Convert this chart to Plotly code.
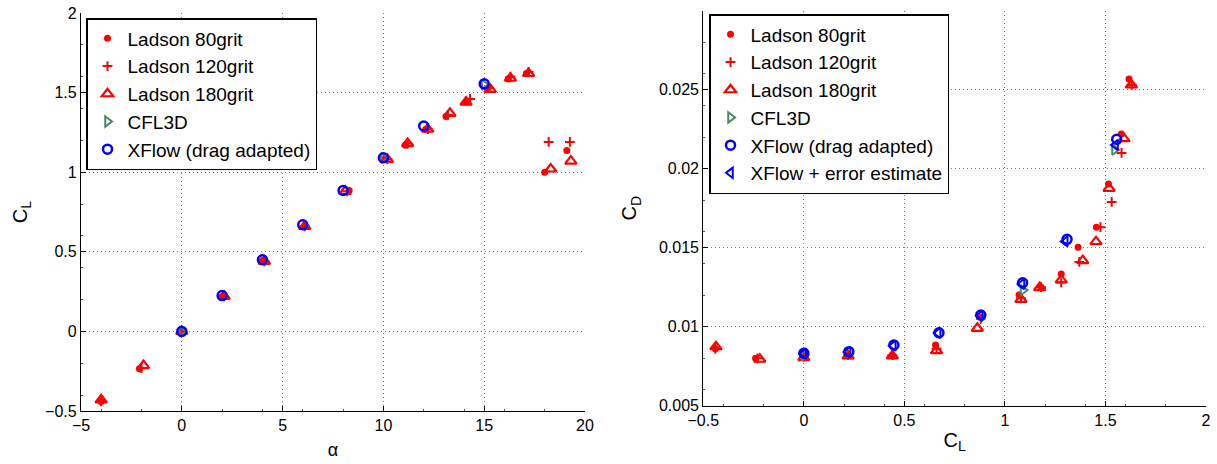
import plotly.graph_objects as go

W, H = 1217, 464

# ---------------- Left plot: CL vs alpha ----------------
a80 = [-4.0, -2.1, 0.0, 2.0, 4.0, 6.1, 8.3, 10.1, 11.1, 12.1, 13.1, 14.1, 15.2, 16.2, 17.1, 18.0, 19.1]
cl80 = [-0.44, -0.235, 0.0, 0.22, 0.445, 0.665, 0.885, 1.09, 1.17, 1.27, 1.35, 1.44, 1.53, 1.585, 1.62, 1.0, 1.136]
a120 = [-4.0, -2.0, 0.0, 2.1, 4.1, 6.1, 8.2, 10.2, 11.2, 12.2, 13.2, 14.3, 15.2, 16.3, 17.2, 18.2, 19.25]
cl120 = [-0.44, -0.23, 0.0, 0.22, 0.44, 0.66, 0.88, 1.08, 1.18, 1.27, 1.36, 1.46, 1.53, 1.60, 1.63, 1.19, 1.19]
a180 = [-4.0, -1.9, 0.0, 2.1, 4.1, 6.1, 8.1, 10.2, 11.2, 12.2, 13.3, 14.1, 15.3, 16.3, 17.2, 18.3, 19.3]
cl180 = [-0.43, -0.215, 0.0, 0.22, 0.44, 0.66, 0.88, 1.08, 1.18, 1.27, 1.37, 1.44, 1.52, 1.59, 1.62, 1.02, 1.07]
a_cfl = [0.0, 10.0, 15.0]
cl_cfl = [0.0, 1.09, 1.55]
a_xf = [0.0, 2.0, 4.0, 6.0, 8.0, 10.0, 12.0, 15.0]
cl_xf = [0.0, 0.225, 0.45, 0.67, 0.885, 1.09, 1.29, 1.555]

# ---------------- Right plot: CD vs CL ----------------
r_cl80 = [-0.44, -0.24, 0.0, 0.22, 0.44, 0.655, 0.88, 1.07, 1.18, 1.28, 1.364, 1.455, 1.515, 1.579, 1.617]
r_cd80 = [0.0086, 0.0080, 0.0081, 0.0082, 0.0082, 0.00884, 0.0106, 0.0120, 0.0125, 0.01334, 0.01503, 0.01629, 0.01903, 0.0222, 0.02568]
r_cl120 = [-0.44, -0.23, 0.0, 0.22, 0.44, 0.66, 0.88, 1.08, 1.18, 1.28, 1.37, 1.475, 1.531, 1.58, 1.63]
r_cd120 = [0.0086, 0.0080, 0.0081, 0.0082, 0.0082, 0.0086, 0.0105, 0.0118, 0.0125, 0.0128, 0.0141, 0.0163, 0.0179, 0.0210, 0.0253]
r_cl180 = [-0.437, -0.219, 0.0, 0.22, 0.44, 0.66, 0.863, 1.08, 1.173, 1.28, 1.387, 1.453, 1.518, 1.592, 1.629]
r_cd180 = [0.00873, 0.00794, 0.00804, 0.00815, 0.00815, 0.00848, 0.0099, 0.01173, 0.01247, 0.01296, 0.01418, 0.01538, 0.01876, 0.0219, 0.0253]
r_cl_cfl = [0.0, 1.09, 1.545]
r_cd_cfl = [0.0082, 0.01232, 0.0212]
r_cl_xf = [0.0, 0.224, 0.448, 0.672, 0.88, 1.088, 1.309, 1.556]
r_cd_xf = [0.00832, 0.00842, 0.00884, 0.00962, 0.01074, 0.01278, 0.01553, 0.02186]
r_cl_xfe = [0.0, 0.22, 0.445, 0.668, 0.878, 1.085, 1.30, 1.55]
r_cd_xfe = [0.0083, 0.0084, 0.0088, 0.0096, 0.0107, 0.0127, 0.0154, 0.0215]

names = ["Ladson 80grit", "Ladson 120grit", "Ladson 180grit", "CFL3D",
         "XFlow (drag adapted)", "XFlow + error estimate"]

RED = "#ff0000"
GREEN = "#4a8a68"
BLUE = "#0000ff"

styles = [
    dict(symbol="circle", size=7, color=RED, line=dict(width=0, color=RED)),
    dict(symbol="cross-thin", size=7, color=RED, line=dict(width=2, color=RED)),
    dict(symbol="triangle-up-open", size=10, color=RED, line=dict(width=2.2, color=RED)),
    dict(symbol="triangle-right-open", size=9, color=GREEN, line=dict(width=2, color=GREEN)),
    dict(symbol="circle-open", size=9, color=BLUE, line=dict(width=2.5, color=BLUE)),
    dict(symbol="triangle-left-open", size=9, color=BLUE, line=dict(width=2, color=BLUE)),
]

fig = go.Figure()

left_sets = [(a80, cl80), (a120, cl120), (a180, cl180), (a_cfl, cl_cfl), (a_xf, cl_xf)]
for i, (xs, ys) in enumerate(left_sets):
    fig.add_trace(go.Scatter(x=xs, y=ys, mode="markers", name=names[i],
                             marker=styles[i], xaxis="x", yaxis="y",
                             legend="legend"))

right_sets = [(r_cl80, r_cd80), (r_cl120, r_cd120), (r_cl180, r_cd180),
              (r_cl_cfl, r_cd_cfl), (r_cl_xf, r_cd_xf), (r_cl_xfe, r_cd_xfe)]
for i, (xs, ys) in enumerate(right_sets):
    fig.add_trace(go.Scatter(x=xs, y=ys, mode="markers", name=names[i],
                             marker=styles[i], xaxis="x2", yaxis="y2",
                             legend="legend2"))

FONT = "Liberation Sans, Arial, Helvetica, sans-serif"
tickfont = dict(family=FONT, size=16, color="black")

common = dict(showgrid=True, gridcolor="#7a7a7a", griddash="1px,3px", gridwidth=1,
              showline=True, linecolor="black", linewidth=1.2, mirror=False,
              ticks="inside", ticklen=5, tickcolor="black", tickfont=tickfont,
              zeroline=False, automargin=False,
              minor=dict(ticks="inside", ticklen=2, tickcolor="#555", showgrid=False))

fig.update_layout(
    width=W, height=H,
    margin=dict(l=0, r=0, t=0, b=0),
    paper_bgcolor="white", plot_bgcolor="white",
    font=dict(family=FONT, color="black"),
    xaxis=dict(domain=[81 / W, 585 / W], range=[-5, 20], tickvals=[-5, 0, 5, 10, 15, 20],
               anchor="y", title=dict(text="α", font=dict(size=18), standoff=10),
               **common),
    yaxis=dict(domain=[1 - 411 / H, 1 - 13 / H], range=[-0.5, 2],
               tickvals=[-0.5, 0, 0.5, 1, 1.5, 2], ticktext=["−0.5", "0", "0.5", "1", "1.5", "2"],
               anchor="x", title=dict(text="C<sub>L</sub>", font=dict(size=20), standoff=12),
               **common),
    xaxis2=dict(domain=[703.3 / W, 1206 / W], range=[-0.5, 2], tickvals=[-0.5, 0, 0.5, 1, 1.5, 2],
                ticktext=["−0.5", "0", "0.5", "1", "1.5", "2"],
                anchor="y2", title=dict(text="C<sub>L</sub>", font=dict(size=20), standoff=4),
                **common),
    yaxis2=dict(domain=[1 - 405.7 / H, 1 - 10.7 / H], range=[0.005, 0.03],
                tickvals=[0.005, 0.01, 0.015, 0.02, 0.025],
                ticktext=["0.005", "0.01", "0.015", "0.02", "0.025"],
                anchor="x2", title=dict(text="C<sub>D</sub>", font=dict(size=20), standoff=16),
                **common),
    legend=dict(x=86 / W, y=1 - 18 / H, xanchor="left", yanchor="top",
                bgcolor="white", bordercolor="black", borderwidth=1.5,
                font=dict(family=FONT, size=19, color="black")),
    legend2=dict(x=709 / W, y=1 - 14 / H, xanchor="left", yanchor="top",
                 bgcolor="white", bordercolor="black", borderwidth=1.5,
                 font=dict(family=FONT, size=19, color="black")),
)

fig.write_html("out.html")
